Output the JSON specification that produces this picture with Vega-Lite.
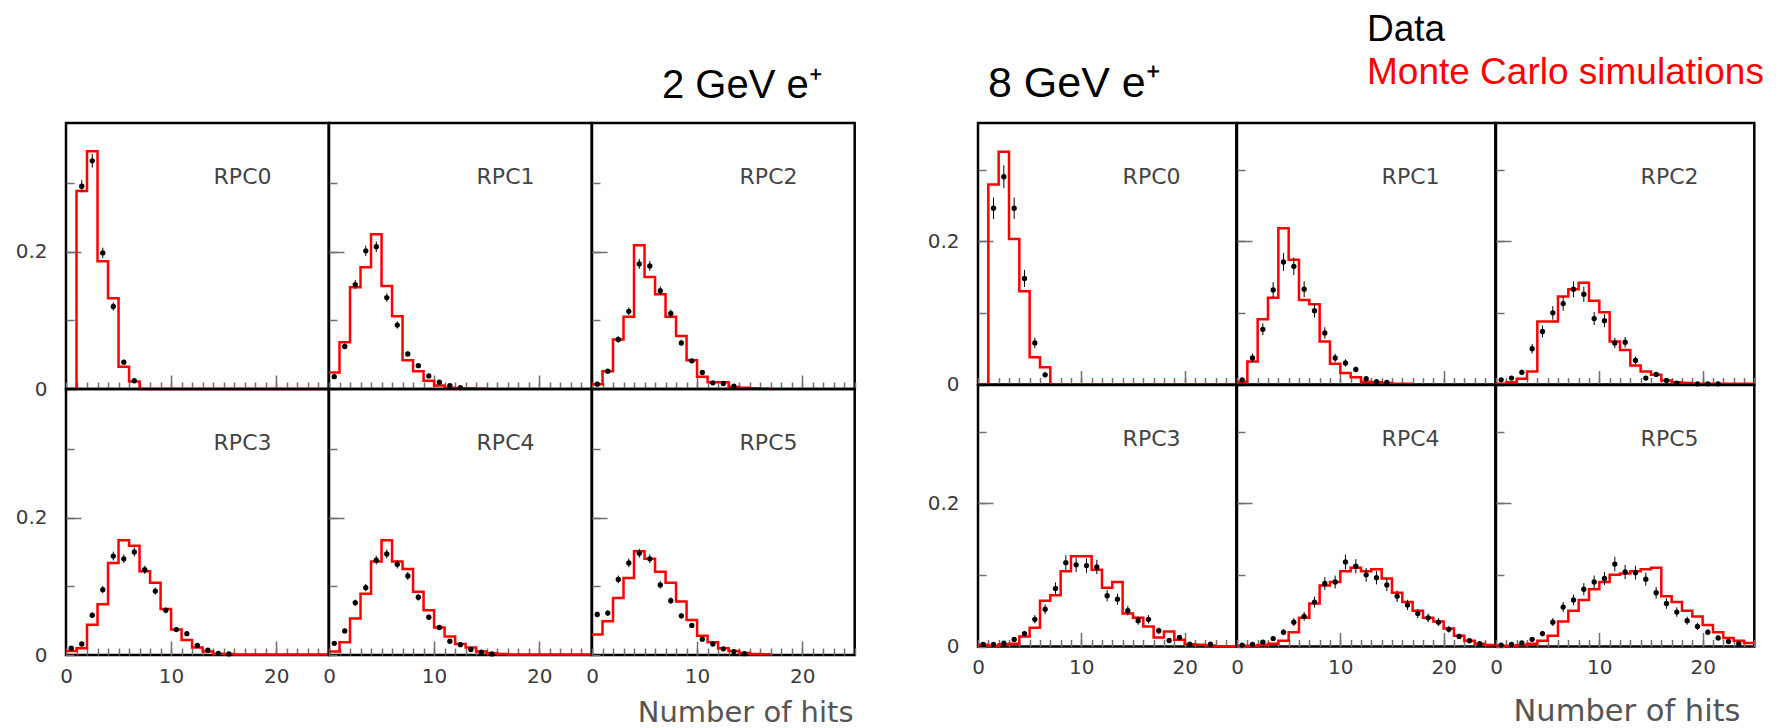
{
  "$schema": "https://vega.github.io/schema/vega-lite/v6.json",
  "background": "white",
  "padding": {"left": 13, "top": 9, "right": 5, "bottom": 2},
  "config": {
    "view": {"stroke": "#000000", "strokeWidth": 2.5},
    "axis": {
      "domain": false,
      "labelFont": "DejaVu Sans",
      "labelFontSize": 20,
      "labelColor": "#3a3a3a",
      "tickColor": "#707070",
      "tickWidth": 1.5,
      "labelOverlap": false,
      "labelFlush": false,
      "grid": true,
      "gridColor": "#707070",
      "gridWidth": 1.5
    },
    "axisX": {
      "tickCount": 25,
      "tickSize": -7,
      "labelPadding": 18,
      "labelExpr": "datum.value == 0 || datum.value == 10 || datum.value == 20 ? datum.label : ''"
    },
    "axisY": {
      "tickCount": 4,
      "tickSize": -8,
      "labelPadding": 27,
      "labelExpr": "datum.value == 0 ? '0' : (abs(datum.value - 0.2) < 0.001 ? '0.2' : '')",
      "gridDash": [15, 2000]
    },
    "text": {"font": "DejaVu Sans", "fontSize": 22, "color": "#444444"},
    "line": {"interpolate": "step-after", "color": "#ff0000", "strokeWidth": 2.5},
    "circle": {"color": "#000000", "opacity": 1, "size": 28},
    "errorbar": {"color": "#000000", "thickness": 2},
    "title": {"font": "Liberation Sans", "fontWeight": "normal", "color": "#000000"}
  },
  "datasets": {
    "h": [
      {"e":2,"p":0,"k":"mc","x":0,"y":0},{"e":2,"p":0,"k":"mc","x":1,"y":0.288},{"e":2,"p":0,"k":"mc","x":2,"y":0.346},{"e":2,"p":0,"k":"mc","x":3,"y":0.186},{"e":2,"p":0,"k":"mc","x":4,"y":0.132},{"e":2,"p":0,"k":"mc","x":5,"y":0.0325},{"e":2,"p":0,"k":"mc","x":6,"y":0.011},{"e":2,"p":0,"k":"mc","x":7,"y":0},{"e":2,"p":0,"k":"mc","x":25,"y":0},
      {"e":2,"p":0,"k":"d","x":1.5,"y":0.295,"err":0.009},{"e":2,"p":0,"k":"d","x":2.5,"y":0.332,"err":0.01},{"e":2,"p":0,"k":"d","x":3.5,"y":0.198,"err":0.0076},{"e":2,"p":0,"k":"d","x":4.5,"y":0.12,"err":0.006},{"e":2,"p":0,"k":"d","x":5.5,"y":0.039,"err":0.0034},{"e":2,"p":0,"k":"d","x":6.5,"y":0.012,"err":0.002},

      {"e":2,"p":1,"k":"mc","x":0,"y":0.024},{"e":2,"p":1,"k":"mc","x":1,"y":0.068},{"e":2,"p":1,"k":"mc","x":2,"y":0.148},{"e":2,"p":1,"k":"mc","x":3,"y":0.177},{"e":2,"p":1,"k":"mc","x":4,"y":0.225},{"e":2,"p":1,"k":"mc","x":5,"y":0.15},{"e":2,"p":1,"k":"mc","x":6,"y":0.106},{"e":2,"p":1,"k":"mc","x":7,"y":0.042},{"e":2,"p":1,"k":"mc","x":8,"y":0.026},{"e":2,"p":1,"k":"mc","x":9,"y":0.012},{"e":2,"p":1,"k":"mc","x":10,"y":0.005},{"e":2,"p":1,"k":"mc","x":11,"y":0.002},{"e":2,"p":1,"k":"mc","x":12,"y":0.001},{"e":2,"p":1,"k":"mc","x":13,"y":0.001},{"e":2,"p":1,"k":"mc","x":14,"y":0.0005},{"e":2,"p":1,"k":"mc","x":15,"y":0.0005},
      {"e":2,"p":1,"k":"d","x":0.5,"y":0.018,"err":0.0023},{"e":2,"p":1,"k":"d","x":1.5,"y":0.062,"err":0.0042},{"e":2,"p":1,"k":"d","x":2.5,"y":0.152,"err":0.0066},{"e":2,"p":1,"k":"d","x":3.5,"y":0.201,"err":0.0076},{"e":2,"p":1,"k":"d","x":4.5,"y":0.207,"err":0.0077},{"e":2,"p":1,"k":"d","x":5.5,"y":0.133,"err":0.0062},{"e":2,"p":1,"k":"d","x":6.5,"y":0.093,"err":0.0052},{"e":2,"p":1,"k":"d","x":7.5,"y":0.051,"err":0.0038},{"e":2,"p":1,"k":"d","x":8.5,"y":0.034,"err":0.0031},{"e":2,"p":1,"k":"d","x":9.5,"y":0.019,"err":0.0023},{"e":2,"p":1,"k":"d","x":10.5,"y":0.01,"err":0.0017},{"e":2,"p":1,"k":"d","x":11.5,"y":0.005,"err":0.0012},{"e":2,"p":1,"k":"d","x":12.5,"y":0.002,"err":0.0008},

      {"e":2,"p":2,"k":"mc","x":0,"y":0.007},{"e":2,"p":2,"k":"mc","x":1,"y":0.026},{"e":2,"p":2,"k":"mc","x":2,"y":0.072},{"e":2,"p":2,"k":"mc","x":3,"y":0.105},{"e":2,"p":2,"k":"mc","x":4,"y":0.209},{"e":2,"p":2,"k":"mc","x":5,"y":0.163},{"e":2,"p":2,"k":"mc","x":6,"y":0.138},{"e":2,"p":2,"k":"mc","x":7,"y":0.105},{"e":2,"p":2,"k":"mc","x":8,"y":0.077},{"e":2,"p":2,"k":"mc","x":9,"y":0.042},{"e":2,"p":2,"k":"mc","x":10,"y":0.018},{"e":2,"p":2,"k":"mc","x":11,"y":0.0097},{"e":2,"p":2,"k":"mc","x":12,"y":0.0097},{"e":2,"p":2,"k":"mc","x":13,"y":0.003},{"e":2,"p":2,"k":"mc","x":14,"y":0.002},{"e":2,"p":2,"k":"mc","x":15,"y":0.001},{"e":2,"p":2,"k":"mc","x":16,"y":0.0005},{"e":2,"p":2,"k":"mc","x":17,"y":0.0005},
      {"e":2,"p":2,"k":"d","x":0.5,"y":0.007,"err":0.0014},{"e":2,"p":2,"k":"d","x":1.5,"y":0.026,"err":0.0027},{"e":2,"p":2,"k":"d","x":2.5,"y":0.072,"err":0.0046},{"e":2,"p":2,"k":"d","x":3.5,"y":0.113,"err":0.0057},{"e":2,"p":2,"k":"d","x":4.5,"y":0.182,"err":0.0073},{"e":2,"p":2,"k":"d","x":5.5,"y":0.179,"err":0.0072},{"e":2,"p":2,"k":"d","x":6.5,"y":0.143,"err":0.0064},{"e":2,"p":2,"k":"d","x":7.5,"y":0.11,"err":0.0056},{"e":2,"p":2,"k":"d","x":8.5,"y":0.067,"err":0.0044},{"e":2,"p":2,"k":"d","x":9.5,"y":0.041,"err":0.0034},{"e":2,"p":2,"k":"d","x":10.5,"y":0.024,"err":0.0026},{"e":2,"p":2,"k":"d","x":11.5,"y":0.009,"err":0.0016},{"e":2,"p":2,"k":"d","x":12.5,"y":0.008,"err":0.0015},{"e":2,"p":2,"k":"d","x":13.5,"y":0.004,"err":0.001},

      {"e":2,"p":3,"k":"mc","x":0,"y":0.006},{"e":2,"p":3,"k":"mc","x":1,"y":0.01},{"e":2,"p":3,"k":"mc","x":2,"y":0.044},{"e":2,"p":3,"k":"mc","x":3,"y":0.074},{"e":2,"p":3,"k":"mc","x":4,"y":0.134},{"e":2,"p":3,"k":"mc","x":5,"y":0.167},{"e":2,"p":3,"k":"mc","x":6,"y":0.159},{"e":2,"p":3,"k":"mc","x":7,"y":0.122},{"e":2,"p":3,"k":"mc","x":8,"y":0.105},{"e":2,"p":3,"k":"mc","x":9,"y":0.067},{"e":2,"p":3,"k":"mc","x":10,"y":0.037},{"e":2,"p":3,"k":"mc","x":11,"y":0.022},{"e":2,"p":3,"k":"mc","x":12,"y":0.011},{"e":2,"p":3,"k":"mc","x":13,"y":0.005},{"e":2,"p":3,"k":"mc","x":14,"y":0.002},{"e":2,"p":3,"k":"mc","x":15,"y":0.0015},{"e":2,"p":3,"k":"mc","x":16,"y":0.0008},{"e":2,"p":3,"k":"mc","x":25,"y":0.0008},
      {"e":2,"p":3,"k":"d","x":0.5,"y":0.0098,"err":0.0017},{"e":2,"p":3,"k":"d","x":1.5,"y":0.016,"err":0.0021},{"e":2,"p":3,"k":"d","x":2.5,"y":0.058,"err":0.0041},{"e":2,"p":3,"k":"d","x":3.5,"y":0.095,"err":0.0052},{"e":2,"p":3,"k":"d","x":4.5,"y":0.144,"err":0.0064},{"e":2,"p":3,"k":"d","x":5.5,"y":0.14,"err":0.0063},{"e":2,"p":3,"k":"d","x":6.5,"y":0.15,"err":0.0066},{"e":2,"p":3,"k":"d","x":7.5,"y":0.124,"err":0.006},{"e":2,"p":3,"k":"d","x":8.5,"y":0.093,"err":0.0052},{"e":2,"p":3,"k":"d","x":9.5,"y":0.065,"err":0.0043},{"e":2,"p":3,"k":"d","x":10.5,"y":0.037,"err":0.0033},{"e":2,"p":3,"k":"d","x":11.5,"y":0.031,"err":0.003},{"e":2,"p":3,"k":"d","x":12.5,"y":0.014,"err":0.002},{"e":2,"p":3,"k":"d","x":13.5,"y":0.007,"err":0.0014},{"e":2,"p":3,"k":"d","x":14.5,"y":0.0025,"err":0.0008},{"e":2,"p":3,"k":"d","x":15.5,"y":0.0015,"err":0.0006},

      {"e":2,"p":4,"k":"mc","x":0,"y":0.005},{"e":2,"p":4,"k":"mc","x":1,"y":0.0185},{"e":2,"p":4,"k":"mc","x":2,"y":0.053},{"e":2,"p":4,"k":"mc","x":3,"y":0.089},{"e":2,"p":4,"k":"mc","x":4,"y":0.136},{"e":2,"p":4,"k":"mc","x":5,"y":0.167},{"e":2,"p":4,"k":"mc","x":6,"y":0.136},{"e":2,"p":4,"k":"mc","x":7,"y":0.125},{"e":2,"p":4,"k":"mc","x":8,"y":0.092},{"e":2,"p":4,"k":"mc","x":9,"y":0.065},{"e":2,"p":4,"k":"mc","x":10,"y":0.04},{"e":2,"p":4,"k":"mc","x":11,"y":0.027},{"e":2,"p":4,"k":"mc","x":12,"y":0.016},{"e":2,"p":4,"k":"mc","x":13,"y":0.011},{"e":2,"p":4,"k":"mc","x":14,"y":0.005},{"e":2,"p":4,"k":"mc","x":15,"y":0.0025},{"e":2,"p":4,"k":"mc","x":16,"y":0.0015},{"e":2,"p":4,"k":"mc","x":17,"y":0.0008},{"e":2,"p":4,"k":"mc","x":25,"y":0.0008},
      {"e":2,"p":4,"k":"d","x":0.5,"y":0.017,"err":0.0022},{"e":2,"p":4,"k":"d","x":1.5,"y":0.035,"err":0.0032},{"e":2,"p":4,"k":"d","x":2.5,"y":0.076,"err":0.0047},{"e":2,"p":4,"k":"d","x":3.5,"y":0.098,"err":0.0053},{"e":2,"p":4,"k":"d","x":4.5,"y":0.138,"err":0.0063},{"e":2,"p":4,"k":"d","x":5.5,"y":0.147,"err":0.0065},{"e":2,"p":4,"k":"d","x":6.5,"y":0.132,"err":0.0062},{"e":2,"p":4,"k":"d","x":7.5,"y":0.115,"err":0.0058},{"e":2,"p":4,"k":"d","x":8.5,"y":0.084,"err":0.0049},{"e":2,"p":4,"k":"d","x":9.5,"y":0.055,"err":0.004},{"e":2,"p":4,"k":"d","x":10.5,"y":0.04,"err":0.0034},{"e":2,"p":4,"k":"d","x":11.5,"y":0.02,"err":0.0024},{"e":2,"p":4,"k":"d","x":12.5,"y":0.015,"err":0.0021},{"e":2,"p":4,"k":"d","x":13.5,"y":0.008,"err":0.0015},{"e":2,"p":4,"k":"d","x":14.5,"y":0.004,"err":0.0011},{"e":2,"p":4,"k":"d","x":15.5,"y":0.0015,"err":0.0007},

      {"e":2,"p":5,"k":"mc","x":0,"y":0.03},{"e":2,"p":5,"k":"mc","x":1,"y":0.049},{"e":2,"p":5,"k":"mc","x":2,"y":0.083},{"e":2,"p":5,"k":"mc","x":3,"y":0.112},{"e":2,"p":5,"k":"mc","x":4,"y":0.151},{"e":2,"p":5,"k":"mc","x":5,"y":0.14},{"e":2,"p":5,"k":"mc","x":6,"y":0.121},{"e":2,"p":5,"k":"mc","x":7,"y":0.105},{"e":2,"p":5,"k":"mc","x":8,"y":0.078},{"e":2,"p":5,"k":"mc","x":9,"y":0.051},{"e":2,"p":5,"k":"mc","x":10,"y":0.028},{"e":2,"p":5,"k":"mc","x":11,"y":0.0185},{"e":2,"p":5,"k":"mc","x":12,"y":0.01},{"e":2,"p":5,"k":"mc","x":13,"y":0.006},{"e":2,"p":5,"k":"mc","x":14,"y":0.003},{"e":2,"p":5,"k":"mc","x":15,"y":0.0015},{"e":2,"p":5,"k":"mc","x":16,"y":0.001},{"e":2,"p":5,"k":"mc","x":17,"y":0.001},
      {"e":2,"p":5,"k":"d","x":0.5,"y":0.059,"err":0.0041},{"e":2,"p":5,"k":"d","x":1.5,"y":0.061,"err":0.0042},{"e":2,"p":5,"k":"d","x":2.5,"y":0.11,"err":0.0056},{"e":2,"p":5,"k":"d","x":3.5,"y":0.134,"err":0.0062},{"e":2,"p":5,"k":"d","x":4.5,"y":0.148,"err":0.0065},{"e":2,"p":5,"k":"d","x":5.5,"y":0.14,"err":0.0063},{"e":2,"p":5,"k":"d","x":6.5,"y":0.102,"err":0.0054},{"e":2,"p":5,"k":"d","x":7.5,"y":0.079,"err":0.0048},{"e":2,"p":5,"k":"d","x":8.5,"y":0.057,"err":0.0041},{"e":2,"p":5,"k":"d","x":9.5,"y":0.043,"err":0.0035},{"e":2,"p":5,"k":"d","x":10.5,"y":0.023,"err":0.0026},{"e":2,"p":5,"k":"d","x":11.5,"y":0.016,"err":0.0022},{"e":2,"p":5,"k":"d","x":12.5,"y":0.009,"err":0.0016},{"e":2,"p":5,"k":"d","x":13.5,"y":0.005,"err":0.0012},{"e":2,"p":5,"k":"d","x":14.5,"y":0.002,"err":0.0008},

      {"e":8,"p":0,"k":"mc","x":0,"y":0},{"e":8,"p":0,"k":"mc","x":1,"y":0.279},{"e":8,"p":0,"k":"mc","x":2,"y":0.325},{"e":8,"p":0,"k":"mc","x":3,"y":0.203},{"e":8,"p":0,"k":"mc","x":4,"y":0.13},{"e":8,"p":0,"k":"mc","x":5,"y":0.038},{"e":8,"p":0,"k":"mc","x":6,"y":0.024},{"e":8,"p":0,"k":"mc","x":7,"y":0},{"e":8,"p":0,"k":"mc","x":25,"y":0},
      {"e":8,"p":0,"k":"d","x":1.5,"y":0.246,"err":0.015},{"e":8,"p":0,"k":"d","x":2.5,"y":0.29,"err":0.016},{"e":8,"p":0,"k":"d","x":3.5,"y":0.246,"err":0.015},{"e":8,"p":0,"k":"d","x":4.5,"y":0.148,"err":0.012},{"e":8,"p":0,"k":"d","x":5.5,"y":0.058,"err":0.0072},{"e":8,"p":0,"k":"d","x":6.5,"y":0.0135,"err":0.0035},

      {"e":8,"p":1,"k":"mc","x":0,"y":0.004},{"e":8,"p":1,"k":"mc","x":1,"y":0.032},{"e":8,"p":1,"k":"mc","x":2,"y":0.091},{"e":8,"p":1,"k":"mc","x":3,"y":0.121},{"e":8,"p":1,"k":"mc","x":4,"y":0.218},{"e":8,"p":1,"k":"mc","x":5,"y":0.174},{"e":8,"p":1,"k":"mc","x":6,"y":0.118},{"e":8,"p":1,"k":"mc","x":7,"y":0.112},{"e":8,"p":1,"k":"mc","x":8,"y":0.06},{"e":8,"p":1,"k":"mc","x":9,"y":0.029},{"e":8,"p":1,"k":"mc","x":10,"y":0.016},{"e":8,"p":1,"k":"mc","x":11,"y":0.01},{"e":8,"p":1,"k":"mc","x":12,"y":0.004},{"e":8,"p":1,"k":"mc","x":13,"y":0.003},{"e":8,"p":1,"k":"mc","x":14,"y":0.002},{"e":8,"p":1,"k":"mc","x":15,"y":0.001},{"e":8,"p":1,"k":"mc","x":16,"y":0.001},{"e":8,"p":1,"k":"mc","x":17,"y":0.001},
      {"e":8,"p":1,"k":"d","x":0.5,"y":0.0065,"err":0.0024},{"e":8,"p":1,"k":"d","x":1.5,"y":0.037,"err":0.0058},{"e":8,"p":1,"k":"d","x":2.5,"y":0.077,"err":0.0083},{"e":8,"p":1,"k":"d","x":3.5,"y":0.132,"err":0.011},{"e":8,"p":1,"k":"d","x":4.5,"y":0.171,"err":0.0124},{"e":8,"p":1,"k":"d","x":5.5,"y":0.165,"err":0.0122},{"e":8,"p":1,"k":"d","x":6.5,"y":0.133,"err":0.011},{"e":8,"p":1,"k":"d","x":7.5,"y":0.103,"err":0.0096},{"e":8,"p":1,"k":"d","x":8.5,"y":0.072,"err":0.008},{"e":8,"p":1,"k":"d","x":9.5,"y":0.037,"err":0.0058},{"e":8,"p":1,"k":"d","x":10.5,"y":0.03,"err":0.0052},{"e":8,"p":1,"k":"d","x":11.5,"y":0.021,"err":0.0043},{"e":8,"p":1,"k":"d","x":12.5,"y":0.008,"err":0.0027},{"e":8,"p":1,"k":"d","x":13.5,"y":0.004,"err":0.0019},{"e":8,"p":1,"k":"d","x":14.5,"y":0.003,"err":0.0016},

      {"e":8,"p":2,"k":"mc","x":0,"y":0.001},{"e":8,"p":2,"k":"mc","x":1,"y":0.003},{"e":8,"p":2,"k":"mc","x":2,"y":0.008},{"e":8,"p":2,"k":"mc","x":3,"y":0.018},{"e":8,"p":2,"k":"mc","x":4,"y":0.088},{"e":8,"p":2,"k":"mc","x":5,"y":0.088},{"e":8,"p":2,"k":"mc","x":6,"y":0.123},{"e":8,"p":2,"k":"mc","x":7,"y":0.133},{"e":8,"p":2,"k":"mc","x":8,"y":0.142},{"e":8,"p":2,"k":"mc","x":9,"y":0.117},{"e":8,"p":2,"k":"mc","x":10,"y":0.101},{"e":8,"p":2,"k":"mc","x":11,"y":0.06},{"e":8,"p":2,"k":"mc","x":12,"y":0.048},{"e":8,"p":2,"k":"mc","x":13,"y":0.0265},{"e":8,"p":2,"k":"mc","x":14,"y":0.018},{"e":8,"p":2,"k":"mc","x":15,"y":0.0135},{"e":8,"p":2,"k":"mc","x":16,"y":0.0056},{"e":8,"p":2,"k":"mc","x":17,"y":0.003},{"e":8,"p":2,"k":"mc","x":18,"y":0.002},{"e":8,"p":2,"k":"mc","x":19,"y":0.001},{"e":8,"p":2,"k":"mc","x":25,"y":0.001},
      {"e":8,"p":2,"k":"d","x":0.5,"y":0.0065,"err":0.0024},{"e":8,"p":2,"k":"d","x":1.5,"y":0.009,"err":0.0028},{"e":8,"p":2,"k":"d","x":2.5,"y":0.017,"err":0.0039},{"e":8,"p":2,"k":"d","x":3.5,"y":0.05,"err":0.0067},{"e":8,"p":2,"k":"d","x":4.5,"y":0.074,"err":0.0082},{"e":8,"p":2,"k":"d","x":5.5,"y":0.1,"err":0.0095},{"e":8,"p":2,"k":"d","x":6.5,"y":0.113,"err":0.01},{"e":8,"p":2,"k":"d","x":7.5,"y":0.133,"err":0.011},{"e":8,"p":2,"k":"d","x":8.5,"y":0.126,"err":0.0106},{"e":8,"p":2,"k":"d","x":9.5,"y":0.092,"err":0.009},{"e":8,"p":2,"k":"d","x":10.5,"y":0.089,"err":0.009},{"e":8,"p":2,"k":"d","x":11.5,"y":0.058,"err":0.0072},{"e":8,"p":2,"k":"d","x":12.5,"y":0.059,"err":0.0073},{"e":8,"p":2,"k":"d","x":13.5,"y":0.0335,"err":0.0055},{"e":8,"p":2,"k":"d","x":14.5,"y":0.009,"err":0.0028},{"e":8,"p":2,"k":"d","x":15.5,"y":0.014,"err":0.0035},{"e":8,"p":2,"k":"d","x":16.5,"y":0.0056,"err":0.0022},{"e":8,"p":2,"k":"d","x":17.5,"y":0.002,"err":0.0013},{"e":8,"p":2,"k":"d","x":19.5,"y":0.001,"err":0.001},{"e":8,"p":2,"k":"d","x":20.5,"y":0.001,"err":0.001},{"e":8,"p":2,"k":"d","x":21.5,"y":0.001,"err":0.001},

      {"e":8,"p":3,"k":"mc","x":0,"y":0.0023},{"e":8,"p":3,"k":"mc","x":1,"y":0.001},{"e":8,"p":3,"k":"mc","x":2,"y":0.003},{"e":8,"p":3,"k":"mc","x":3,"y":0.004},{"e":8,"p":3,"k":"mc","x":4,"y":0.014},{"e":8,"p":3,"k":"mc","x":5,"y":0.026},{"e":8,"p":3,"k":"mc","x":6,"y":0.064},{"e":8,"p":3,"k":"mc","x":7,"y":0.0715},{"e":8,"p":3,"k":"mc","x":8,"y":0.105},{"e":8,"p":3,"k":"mc","x":9,"y":0.126},{"e":8,"p":3,"k":"mc","x":10,"y":0.126},{"e":8,"p":3,"k":"mc","x":11,"y":0.107},{"e":8,"p":3,"k":"mc","x":12,"y":0.082},{"e":8,"p":3,"k":"mc","x":13,"y":0.09},{"e":8,"p":3,"k":"mc","x":14,"y":0.046},{"e":8,"p":3,"k":"mc","x":15,"y":0.04},{"e":8,"p":3,"k":"mc","x":16,"y":0.028},{"e":8,"p":3,"k":"mc","x":17,"y":0.0126},{"e":8,"p":3,"k":"mc","x":18,"y":0.021},{"e":8,"p":3,"k":"mc","x":19,"y":0.0093},{"e":8,"p":3,"k":"mc","x":20,"y":0.0033},{"e":8,"p":3,"k":"mc","x":21,"y":0.0023},{"e":8,"p":3,"k":"mc","x":22,"y":0.0014},{"e":8,"p":3,"k":"mc","x":23,"y":0.0005},{"e":8,"p":3,"k":"mc","x":25,"y":0.0005},
      {"e":8,"p":3,"k":"d","x":0.5,"y":0.003,"err":0.0016},{"e":8,"p":3,"k":"d","x":1.5,"y":0.003,"err":0.0016},{"e":8,"p":3,"k":"d","x":2.5,"y":0.0047,"err":0.002},{"e":8,"p":3,"k":"d","x":3.5,"y":0.0098,"err":0.003},{"e":8,"p":3,"k":"d","x":4.5,"y":0.018,"err":0.004},{"e":8,"p":3,"k":"d","x":5.5,"y":0.038,"err":0.0058},{"e":8,"p":3,"k":"d","x":6.5,"y":0.052,"err":0.0068},{"e":8,"p":3,"k":"d","x":7.5,"y":0.081,"err":0.0085},{"e":8,"p":3,"k":"d","x":8.5,"y":0.117,"err":0.0103},{"e":8,"p":3,"k":"d","x":9.5,"y":0.114,"err":0.0101},{"e":8,"p":3,"k":"d","x":10.5,"y":0.113,"err":0.0101},{"e":8,"p":3,"k":"d","x":11.5,"y":0.111,"err":0.01},{"e":8,"p":3,"k":"d","x":12.5,"y":0.071,"err":0.008},{"e":8,"p":3,"k":"d","x":13.5,"y":0.066,"err":0.0077},{"e":8,"p":3,"k":"d","x":14.5,"y":0.05,"err":0.0067},{"e":8,"p":3,"k":"d","x":15.5,"y":0.036,"err":0.0057},{"e":8,"p":3,"k":"d","x":16.5,"y":0.038,"err":0.0058},{"e":8,"p":3,"k":"d","x":17.5,"y":0.022,"err":0.0044},{"e":8,"p":3,"k":"d","x":18.5,"y":0.0084,"err":0.0027},{"e":8,"p":3,"k":"d","x":19.5,"y":0.0126,"err":0.0034},{"e":8,"p":3,"k":"d","x":20.5,"y":0.0033,"err":0.0017},{"e":8,"p":3,"k":"d","x":22.5,"y":0.0033,"err":0.0017},

      {"e":8,"p":4,"k":"mc","x":0,"y":0.001},{"e":8,"p":4,"k":"mc","x":1,"y":0.001},{"e":8,"p":4,"k":"mc","x":2,"y":0.002},{"e":8,"p":4,"k":"mc","x":3,"y":0.004},{"e":8,"p":4,"k":"mc","x":4,"y":0.008},{"e":8,"p":4,"k":"mc","x":5,"y":0.02},{"e":8,"p":4,"k":"mc","x":6,"y":0.04},{"e":8,"p":4,"k":"mc","x":7,"y":0.06},{"e":8,"p":4,"k":"mc","x":8,"y":0.085},{"e":8,"p":4,"k":"mc","x":9,"y":0.09},{"e":8,"p":4,"k":"mc","x":10,"y":0.105},{"e":8,"p":4,"k":"mc","x":11,"y":0.11},{"e":8,"p":4,"k":"mc","x":12,"y":0.105},{"e":8,"p":4,"k":"mc","x":13,"y":0.108},{"e":8,"p":4,"k":"mc","x":14,"y":0.095},{"e":8,"p":4,"k":"mc","x":15,"y":0.075},{"e":8,"p":4,"k":"mc","x":16,"y":0.062},{"e":8,"p":4,"k":"mc","x":17,"y":0.05},{"e":8,"p":4,"k":"mc","x":18,"y":0.04},{"e":8,"p":4,"k":"mc","x":19,"y":0.035},{"e":8,"p":4,"k":"mc","x":20,"y":0.025},{"e":8,"p":4,"k":"mc","x":21,"y":0.015},{"e":8,"p":4,"k":"mc","x":22,"y":0.008},{"e":8,"p":4,"k":"mc","x":23,"y":0.004},{"e":8,"p":4,"k":"mc","x":24,"y":0.002},{"e":8,"p":4,"k":"mc","x":25,"y":0.002},
      {"e":8,"p":4,"k":"d","x":0.5,"y":0.002,"err":0.0013},{"e":8,"p":4,"k":"d","x":1.5,"y":0.003,"err":0.0016},{"e":8,"p":4,"k":"d","x":2.5,"y":0.006,"err":0.0023},{"e":8,"p":4,"k":"d","x":3.5,"y":0.011,"err":0.0031},{"e":8,"p":4,"k":"d","x":4.5,"y":0.02,"err":0.0042},{"e":8,"p":4,"k":"d","x":5.5,"y":0.034,"err":0.0055},{"e":8,"p":4,"k":"d","x":6.5,"y":0.042,"err":0.0061},{"e":8,"p":4,"k":"d","x":7.5,"y":0.062,"err":0.0075},{"e":8,"p":4,"k":"d","x":8.5,"y":0.088,"err":0.0089},{"e":8,"p":4,"k":"d","x":9.5,"y":0.09,"err":0.009},{"e":8,"p":4,"k":"d","x":10.5,"y":0.118,"err":0.0103},{"e":8,"p":4,"k":"d","x":11.5,"y":0.112,"err":0.01},{"e":8,"p":4,"k":"d","x":12.5,"y":0.1,"err":0.0095},{"e":8,"p":4,"k":"d","x":13.5,"y":0.096,"err":0.0093},{"e":8,"p":4,"k":"d","x":14.5,"y":0.086,"err":0.0088},{"e":8,"p":4,"k":"d","x":15.5,"y":0.07,"err":0.0079},{"e":8,"p":4,"k":"d","x":16.5,"y":0.058,"err":0.0072},{"e":8,"p":4,"k":"d","x":17.5,"y":0.046,"err":0.0064},{"e":8,"p":4,"k":"d","x":18.5,"y":0.04,"err":0.006},{"e":8,"p":4,"k":"d","x":19.5,"y":0.034,"err":0.0055},{"e":8,"p":4,"k":"d","x":20.5,"y":0.024,"err":0.0046},{"e":8,"p":4,"k":"d","x":21.5,"y":0.014,"err":0.0035},{"e":8,"p":4,"k":"d","x":22.5,"y":0.008,"err":0.0027},{"e":8,"p":4,"k":"d","x":23.5,"y":0.004,"err":0.0019},

      {"e":8,"p":5,"k":"mc","x":0,"y":0.001},{"e":8,"p":5,"k":"mc","x":1,"y":0.001},{"e":8,"p":5,"k":"mc","x":2,"y":0.002},{"e":8,"p":5,"k":"mc","x":3,"y":0.004},{"e":8,"p":5,"k":"mc","x":4,"y":0.008},{"e":8,"p":5,"k":"mc","x":5,"y":0.015},{"e":8,"p":5,"k":"mc","x":6,"y":0.035},{"e":8,"p":5,"k":"mc","x":7,"y":0.05},{"e":8,"p":5,"k":"mc","x":8,"y":0.065},{"e":8,"p":5,"k":"mc","x":9,"y":0.08},{"e":8,"p":5,"k":"mc","x":10,"y":0.09},{"e":8,"p":5,"k":"mc","x":11,"y":0.1},{"e":8,"p":5,"k":"mc","x":12,"y":0.102},{"e":8,"p":5,"k":"mc","x":13,"y":0.105},{"e":8,"p":5,"k":"mc","x":14,"y":0.108},{"e":8,"p":5,"k":"mc","x":15,"y":0.11},{"e":8,"p":5,"k":"mc","x":16,"y":0.07},{"e":8,"p":5,"k":"mc","x":17,"y":0.062},{"e":8,"p":5,"k":"mc","x":18,"y":0.05},{"e":8,"p":5,"k":"mc","x":19,"y":0.042},{"e":8,"p":5,"k":"mc","x":20,"y":0.03},{"e":8,"p":5,"k":"mc","x":21,"y":0.02},{"e":8,"p":5,"k":"mc","x":22,"y":0.012},{"e":8,"p":5,"k":"mc","x":23,"y":0.008},{"e":8,"p":5,"k":"mc","x":24,"y":0.005},{"e":8,"p":5,"k":"mc","x":25,"y":0.005},
      {"e":8,"p":5,"k":"d","x":0.5,"y":0.002,"err":0.0013},{"e":8,"p":5,"k":"d","x":1.5,"y":0.003,"err":0.0016},{"e":8,"p":5,"k":"d","x":2.5,"y":0.005,"err":0.0021},{"e":8,"p":5,"k":"d","x":3.5,"y":0.01,"err":0.003},{"e":8,"p":5,"k":"d","x":4.5,"y":0.018,"err":0.004},{"e":8,"p":5,"k":"d","x":5.5,"y":0.034,"err":0.0055},{"e":8,"p":5,"k":"d","x":6.5,"y":0.055,"err":0.007},{"e":8,"p":5,"k":"d","x":7.5,"y":0.065,"err":0.0076},{"e":8,"p":5,"k":"d","x":8.5,"y":0.08,"err":0.0085},{"e":8,"p":5,"k":"d","x":9.5,"y":0.09,"err":0.009},{"e":8,"p":5,"k":"d","x":10.5,"y":0.095,"err":0.0092},{"e":8,"p":5,"k":"d","x":11.5,"y":0.115,"err":0.0102},{"e":8,"p":5,"k":"d","x":12.5,"y":0.104,"err":0.0097},{"e":8,"p":5,"k":"d","x":13.5,"y":0.103,"err":0.0096},{"e":8,"p":5,"k":"d","x":14.5,"y":0.094,"err":0.0092},{"e":8,"p":5,"k":"d","x":15.5,"y":0.075,"err":0.0082},{"e":8,"p":5,"k":"d","x":16.5,"y":0.06,"err":0.0073},{"e":8,"p":5,"k":"d","x":17.5,"y":0.048,"err":0.0066},{"e":8,"p":5,"k":"d","x":18.5,"y":0.036,"err":0.0057},{"e":8,"p":5,"k":"d","x":19.5,"y":0.028,"err":0.005},{"e":8,"p":5,"k":"d","x":20.5,"y":0.02,"err":0.0042},{"e":8,"p":5,"k":"d","x":21.5,"y":0.012,"err":0.0033},{"e":8,"p":5,"k":"d","x":22.5,"y":0.007,"err":0.0025},{"e":8,"p":5,"k":"d","x":23.5,"y":0.004,"err":0.0019}
    ]
  },
  "spacing": 68,
  "hconcat": [
    {
      "columns": 3,
      "spacing": 0,
      "bounds": "flush",
      "concat": [
        {
          "width": 262.7, "height": 266,
          "layer": [
            {"data": {"name": "h"}, "transform": [{"filter": "datum.e == 2 && datum.p == 0 && datum.k == 'mc'"}], "mark": "line",
             "encoding": {
               "x": {"field": "x", "type": "quantitative", "scale": {"domain": [0, 25], "nice": false, "zero": false}, "axis": {"title": null, "labels": false, "gridDash": [0, 252, 14, 2000], "gridOpacity": {"condition": {"test": "datum.value == 10 || datum.value == 20", "value": 1}, "value": 0}}},
               "y": {"field": "y", "type": "quantitative", "scale": {"domain": [0, 0.387], "nice": false}, "axis": {"title": null, "labels": true, "gridOpacity": {"condition": {"test": "abs(datum.value - 0.2) < 0.001", "value": 1}, "value": 0}}}}},
            {"data": {"name": "h"}, "transform": [{"filter": "datum.e == 2 && datum.p == 0 && datum.k == 'd'"}], "mark": "errorbar", "encoding": {"x": {"field": "x", "type": "quantitative"}, "y": {"field": "y", "type": "quantitative"}, "yError": {"field": "err"}}},
            {"data": {"name": "h"}, "transform": [{"filter": "datum.e == 2 && datum.p == 0 && datum.k == 'd'"}], "mark": "circle", "encoding": {"x": {"field": "x", "type": "quantitative"}, "y": {"field": "y", "type": "quantitative"}}},
            {"data": {"values": [{"t": "RPC0"}]}, "mark": "text", "encoding": {"x": {"datum": 16.8}, "y": {"datum": 0.309}, "text": {"field": "t"}}}
          ]
        },
        {
          "width": 262.7, "height": 266,
          "layer": [
            {"data": {"name": "h"}, "transform": [{"filter": "datum.e == 2 && datum.p == 1 && datum.k == 'mc'"}], "mark": "line",
             "encoding": {
               "x": {"field": "x", "type": "quantitative", "scale": {"domain": [0, 25], "nice": false, "zero": false}, "axis": {"title": null, "labels": false, "gridDash": [0, 252, 14, 2000], "gridOpacity": {"condition": {"test": "datum.value == 10 || datum.value == 20", "value": 1}, "value": 0}}},
               "y": {"field": "y", "type": "quantitative", "scale": {"domain": [0, 0.387], "nice": false}, "axis": {"title": null, "labels": false, "gridOpacity": {"condition": {"test": "abs(datum.value - 0.2) < 0.001", "value": 1}, "value": 0}}}}},
            {"data": {"name": "h"}, "transform": [{"filter": "datum.e == 2 && datum.p == 1 && datum.k == 'd'"}], "mark": "errorbar", "encoding": {"x": {"field": "x", "type": "quantitative"}, "y": {"field": "y", "type": "quantitative"}, "yError": {"field": "err"}}},
            {"data": {"name": "h"}, "transform": [{"filter": "datum.e == 2 && datum.p == 1 && datum.k == 'd'"}], "mark": "circle", "encoding": {"x": {"field": "x", "type": "quantitative"}, "y": {"field": "y", "type": "quantitative"}}},
            {"data": {"values": [{"t": "RPC1"}]}, "mark": "text", "encoding": {"x": {"datum": 16.8}, "y": {"datum": 0.309}, "text": {"field": "t"}}}
          ]
        },
        {
          "width": 262.7, "height": 266,
          "title": {"text": "2 GeV e⁺", "anchor": "end", "frame": "group", "dx": -32, "offset": 17, "fontSize": 40},
          "layer": [
            {"data": {"name": "h"}, "transform": [{"filter": "datum.e == 2 && datum.p == 2 && datum.k == 'mc'"}], "mark": "line",
             "encoding": {
               "x": {"field": "x", "type": "quantitative", "scale": {"domain": [0, 25], "nice": false, "zero": false}, "axis": {"title": null, "labels": false, "gridDash": [0, 252, 14, 2000], "gridOpacity": {"condition": {"test": "datum.value == 10 || datum.value == 20", "value": 1}, "value": 0}}},
               "y": {"field": "y", "type": "quantitative", "scale": {"domain": [0, 0.387], "nice": false}, "axis": {"title": null, "labels": false, "gridOpacity": {"condition": {"test": "abs(datum.value - 0.2) < 0.001", "value": 1}, "value": 0}}}}},
            {"data": {"name": "h"}, "transform": [{"filter": "datum.e == 2 && datum.p == 2 && datum.k == 'd'"}], "mark": "errorbar", "encoding": {"x": {"field": "x", "type": "quantitative"}, "y": {"field": "y", "type": "quantitative"}, "yError": {"field": "err"}}},
            {"data": {"name": "h"}, "transform": [{"filter": "datum.e == 2 && datum.p == 2 && datum.k == 'd'"}], "mark": "circle", "encoding": {"x": {"field": "x", "type": "quantitative"}, "y": {"field": "y", "type": "quantitative"}}},
            {"data": {"values": [{"t": "RPC2"}]}, "mark": "text", "encoding": {"x": {"datum": 16.8}, "y": {"datum": 0.309}, "text": {"field": "t"}}}
          ]
        },
        {
          "width": 262.7, "height": 266,
          "layer": [
            {"data": {"name": "h"}, "transform": [{"filter": "datum.e == 2 && datum.p == 3 && datum.k == 'mc'"}], "mark": "line",
             "encoding": {
               "x": {"field": "x", "type": "quantitative", "scale": {"domain": [0, 25], "nice": false, "zero": false}, "axis": {"title": null, "labels": true, "gridDash": [0, 252, 14, 2000], "gridOpacity": {"condition": {"test": "datum.value == 10 || datum.value == 20", "value": 1}, "value": 0}}},
               "y": {"field": "y", "type": "quantitative", "scale": {"domain": [0, 0.387], "nice": false}, "axis": {"title": null, "labels": true, "gridOpacity": {"condition": {"test": "abs(datum.value - 0.2) < 0.001", "value": 1}, "value": 0}}}}},
            {"data": {"name": "h"}, "transform": [{"filter": "datum.e == 2 && datum.p == 3 && datum.k == 'd'"}], "mark": "errorbar", "encoding": {"x": {"field": "x", "type": "quantitative"}, "y": {"field": "y", "type": "quantitative"}, "yError": {"field": "err"}}},
            {"data": {"name": "h"}, "transform": [{"filter": "datum.e == 2 && datum.p == 3 && datum.k == 'd'"}], "mark": "circle", "encoding": {"x": {"field": "x", "type": "quantitative"}, "y": {"field": "y", "type": "quantitative"}}},
            {"data": {"values": [{"t": "RPC3"}]}, "mark": "text", "encoding": {"x": {"datum": 16.8}, "y": {"datum": 0.309}, "text": {"field": "t"}}}
          ]
        },
        {
          "width": 262.7, "height": 266,
          "layer": [
            {"data": {"name": "h"}, "transform": [{"filter": "datum.e == 2 && datum.p == 4 && datum.k == 'mc'"}], "mark": "line",
             "encoding": {
               "x": {"field": "x", "type": "quantitative", "scale": {"domain": [0, 25], "nice": false, "zero": false}, "axis": {"title": null, "labels": true, "gridDash": [0, 252, 14, 2000], "gridOpacity": {"condition": {"test": "datum.value == 10 || datum.value == 20", "value": 1}, "value": 0}}},
               "y": {"field": "y", "type": "quantitative", "scale": {"domain": [0, 0.387], "nice": false}, "axis": {"title": null, "labels": false, "gridOpacity": {"condition": {"test": "abs(datum.value - 0.2) < 0.001", "value": 1}, "value": 0}}}}},
            {"data": {"name": "h"}, "transform": [{"filter": "datum.e == 2 && datum.p == 4 && datum.k == 'd'"}], "mark": "errorbar", "encoding": {"x": {"field": "x", "type": "quantitative"}, "y": {"field": "y", "type": "quantitative"}, "yError": {"field": "err"}}},
            {"data": {"name": "h"}, "transform": [{"filter": "datum.e == 2 && datum.p == 4 && datum.k == 'd'"}], "mark": "circle", "encoding": {"x": {"field": "x", "type": "quantitative"}, "y": {"field": "y", "type": "quantitative"}}},
            {"data": {"values": [{"t": "RPC4"}]}, "mark": "text", "encoding": {"x": {"datum": 16.8}, "y": {"datum": 0.309}, "text": {"field": "t"}}}
          ]
        },
        {
          "width": 262.7, "height": 266,
          "layer": [
            {"data": {"name": "h"}, "transform": [{"filter": "datum.e == 2 && datum.p == 5 && datum.k == 'mc'"}], "mark": "line",
             "encoding": {
               "x": {"field": "x", "type": "quantitative", "scale": {"domain": [0, 25], "nice": false, "zero": false}, "axis": {"title": "Number of hits", "titleFont": "DejaVu Sans", "titleFontSize": 29, "titleFontWeight": "normal", "titleColor": "#555555", "titleAlign": "right", "titleBaseline": "alphabetic", "titleX": 261, "titleY": 66, "labels": true, "gridDash": [0, 252, 14, 2000], "gridOpacity": {"condition": {"test": "datum.value == 10 || datum.value == 20", "value": 1}, "value": 0}}},
               "y": {"field": "y", "type": "quantitative", "scale": {"domain": [0, 0.387], "nice": false}, "axis": {"title": null, "labels": false, "gridOpacity": {"condition": {"test": "abs(datum.value - 0.2) < 0.001", "value": 1}, "value": 0}}}}},
            {"data": {"name": "h"}, "transform": [{"filter": "datum.e == 2 && datum.p == 5 && datum.k == 'd'"}], "mark": "errorbar", "encoding": {"x": {"field": "x", "type": "quantitative"}, "y": {"field": "y", "type": "quantitative"}, "yError": {"field": "err"}}},
            {"data": {"name": "h"}, "transform": [{"filter": "datum.e == 2 && datum.p == 5 && datum.k == 'd'"}], "mark": "circle", "encoding": {"x": {"field": "x", "type": "quantitative"}, "y": {"field": "y", "type": "quantitative"}}},
            {"data": {"values": [{"t": "RPC5"}]}, "mark": "text", "encoding": {"x": {"datum": 16.8}, "y": {"datum": 0.309}, "text": {"field": "t"}}}
          ]
        }
      ]
    },
    {
      "columns": 3,
      "spacing": 0,
      "bounds": "flush",
      "concat": [
        {
          "width": 258.3, "height": 261.5,
          "title": {"text": "8 GeV e⁺", "anchor": "start", "frame": "group", "dx": 10, "offset": 17, "fontSize": 43},
          "layer": [
            {"data": {"name": "h"}, "transform": [{"filter": "datum.e == 8 && datum.p == 0 && datum.k == 'mc'"}], "mark": "line",
             "encoding": {
               "x": {"field": "x", "type": "quantitative", "scale": {"domain": [0, 25], "nice": false, "zero": false}, "axis": {"title": null, "labels": false, "gridDash": [0, 247.5, 14, 2000], "gridOpacity": {"condition": {"test": "datum.value == 10 || datum.value == 20", "value": 1}, "value": 0}}},
               "y": {"field": "y", "type": "quantitative", "scale": {"domain": [0, 0.365], "nice": false}, "axis": {"title": null, "labels": true, "gridOpacity": {"condition": {"test": "abs(datum.value - 0.2) < 0.001", "value": 1}, "value": 0}}}}},
            {"data": {"name": "h"}, "transform": [{"filter": "datum.e == 8 && datum.p == 0 && datum.k == 'd'"}], "mark": "errorbar", "encoding": {"x": {"field": "x", "type": "quantitative"}, "y": {"field": "y", "type": "quantitative"}, "yError": {"field": "err"}}},
            {"data": {"name": "h"}, "transform": [{"filter": "datum.e == 8 && datum.p == 0 && datum.k == 'd'"}], "mark": "circle", "encoding": {"x": {"field": "x", "type": "quantitative"}, "y": {"field": "y", "type": "quantitative"}}},
            {"data": {"values": [{"t": "RPC0"}]}, "mark": "text", "encoding": {"x": {"datum": 16.8}, "y": {"datum": 0.29}, "text": {"field": "t"}}}
          ]
        },
        {
          "width": 258.3, "height": 261.5,
          "layer": [
            {"data": {"name": "h"}, "transform": [{"filter": "datum.e == 8 && datum.p == 1 && datum.k == 'mc'"}], "mark": "line",
             "encoding": {
               "x": {"field": "x", "type": "quantitative", "scale": {"domain": [0, 25], "nice": false, "zero": false}, "axis": {"title": null, "labels": false, "gridDash": [0, 247.5, 14, 2000], "gridOpacity": {"condition": {"test": "datum.value == 10 || datum.value == 20", "value": 1}, "value": 0}}},
               "y": {"field": "y", "type": "quantitative", "scale": {"domain": [0, 0.365], "nice": false}, "axis": {"title": null, "labels": false, "gridOpacity": {"condition": {"test": "abs(datum.value - 0.2) < 0.001", "value": 1}, "value": 0}}}}},
            {"data": {"name": "h"}, "transform": [{"filter": "datum.e == 8 && datum.p == 1 && datum.k == 'd'"}], "mark": "errorbar", "encoding": {"x": {"field": "x", "type": "quantitative"}, "y": {"field": "y", "type": "quantitative"}, "yError": {"field": "err"}}},
            {"data": {"name": "h"}, "transform": [{"filter": "datum.e == 8 && datum.p == 1 && datum.k == 'd'"}], "mark": "circle", "encoding": {"x": {"field": "x", "type": "quantitative"}, "y": {"field": "y", "type": "quantitative"}}},
            {"data": {"values": [{"t": "RPC1"}]}, "mark": "text", "encoding": {"x": {"datum": 16.8}, "y": {"datum": 0.29}, "text": {"field": "t"}}}
          ]
        },
        {
          "width": 258.3, "height": 261.5,
          "title": {"text": "Data", "subtitle": "Monte Carlo simulations", "anchor": "start", "frame": "group", "dx": -129, "offset": 31, "fontSize": 37, "subtitleFont": "Liberation Sans", "subtitleFontSize": 37, "subtitleColor": "#ff0000", "subtitlePadding": 6},
          "layer": [
            {"data": {"name": "h"}, "transform": [{"filter": "datum.e == 8 && datum.p == 2 && datum.k == 'mc'"}], "mark": "line",
             "encoding": {
               "x": {"field": "x", "type": "quantitative", "scale": {"domain": [0, 25], "nice": false, "zero": false}, "axis": {"title": null, "labels": false, "gridDash": [0, 247.5, 14, 2000], "gridOpacity": {"condition": {"test": "datum.value == 10 || datum.value == 20", "value": 1}, "value": 0}}},
               "y": {"field": "y", "type": "quantitative", "scale": {"domain": [0, 0.365], "nice": false}, "axis": {"title": null, "labels": false, "gridOpacity": {"condition": {"test": "abs(datum.value - 0.2) < 0.001", "value": 1}, "value": 0}}}}},
            {"data": {"name": "h"}, "transform": [{"filter": "datum.e == 8 && datum.p == 2 && datum.k == 'd'"}], "mark": "errorbar", "encoding": {"x": {"field": "x", "type": "quantitative"}, "y": {"field": "y", "type": "quantitative"}, "yError": {"field": "err"}}},
            {"data": {"name": "h"}, "transform": [{"filter": "datum.e == 8 && datum.p == 2 && datum.k == 'd'"}], "mark": "circle", "encoding": {"x": {"field": "x", "type": "quantitative"}, "y": {"field": "y", "type": "quantitative"}}},
            {"data": {"values": [{"t": "RPC2"}]}, "mark": "text", "encoding": {"x": {"datum": 16.8}, "y": {"datum": 0.29}, "text": {"field": "t"}}}
          ]
        },
        {
          "width": 258.3, "height": 261.5,
          "layer": [
            {"data": {"name": "h"}, "transform": [{"filter": "datum.e == 8 && datum.p == 3 && datum.k == 'mc'"}], "mark": "line",
             "encoding": {
               "x": {"field": "x", "type": "quantitative", "scale": {"domain": [0, 25], "nice": false, "zero": false}, "axis": {"title": null, "labels": true, "gridDash": [0, 247.5, 14, 2000], "gridOpacity": {"condition": {"test": "datum.value == 10 || datum.value == 20", "value": 1}, "value": 0}}},
               "y": {"field": "y", "type": "quantitative", "scale": {"domain": [0, 0.365], "nice": false}, "axis": {"title": null, "labels": true, "gridOpacity": {"condition": {"test": "abs(datum.value - 0.2) < 0.001", "value": 1}, "value": 0}}}}},
            {"data": {"name": "h"}, "transform": [{"filter": "datum.e == 8 && datum.p == 3 && datum.k == 'd'"}], "mark": "errorbar", "encoding": {"x": {"field": "x", "type": "quantitative"}, "y": {"field": "y", "type": "quantitative"}, "yError": {"field": "err"}}},
            {"data": {"name": "h"}, "transform": [{"filter": "datum.e == 8 && datum.p == 3 && datum.k == 'd'"}], "mark": "circle", "encoding": {"x": {"field": "x", "type": "quantitative"}, "y": {"field": "y", "type": "quantitative"}}},
            {"data": {"values": [{"t": "RPC3"}]}, "mark": "text", "encoding": {"x": {"datum": 16.8}, "y": {"datum": 0.29}, "text": {"field": "t"}}}
          ]
        },
        {
          "width": 258.3, "height": 261.5,
          "layer": [
            {"data": {"name": "h"}, "transform": [{"filter": "datum.e == 8 && datum.p == 4 && datum.k == 'mc'"}], "mark": "line",
             "encoding": {
               "x": {"field": "x", "type": "quantitative", "scale": {"domain": [0, 25], "nice": false, "zero": false}, "axis": {"title": null, "labels": true, "gridDash": [0, 247.5, 14, 2000], "gridOpacity": {"condition": {"test": "datum.value == 10 || datum.value == 20", "value": 1}, "value": 0}}},
               "y": {"field": "y", "type": "quantitative", "scale": {"domain": [0, 0.365], "nice": false}, "axis": {"title": null, "labels": false, "gridOpacity": {"condition": {"test": "abs(datum.value - 0.2) < 0.001", "value": 1}, "value": 0}}}}},
            {"data": {"name": "h"}, "transform": [{"filter": "datum.e == 8 && datum.p == 4 && datum.k == 'd'"}], "mark": "errorbar", "encoding": {"x": {"field": "x", "type": "quantitative"}, "y": {"field": "y", "type": "quantitative"}, "yError": {"field": "err"}}},
            {"data": {"name": "h"}, "transform": [{"filter": "datum.e == 8 && datum.p == 4 && datum.k == 'd'"}], "mark": "circle", "encoding": {"x": {"field": "x", "type": "quantitative"}, "y": {"field": "y", "type": "quantitative"}}},
            {"data": {"values": [{"t": "RPC4"}]}, "mark": "text", "encoding": {"x": {"datum": 16.8}, "y": {"datum": 0.29}, "text": {"field": "t"}}}
          ]
        },
        {
          "width": 258.3, "height": 261.5,
          "layer": [
            {"data": {"name": "h"}, "transform": [{"filter": "datum.e == 8 && datum.p == 5 && datum.k == 'mc'"}], "mark": "line",
             "encoding": {
               "x": {"field": "x", "type": "quantitative", "scale": {"domain": [0, 25], "nice": false, "zero": false}, "axis": {"title": "Number of hits", "titleFont": "DejaVu Sans", "titleFontSize": 30.5, "titleFontWeight": "normal", "titleColor": "#555555", "titleAlign": "right", "titleBaseline": "alphabetic", "titleX": 244, "titleY": 74, "labels": true, "gridDash": [0, 247.5, 14, 2000], "gridOpacity": {"condition": {"test": "datum.value == 10 || datum.value == 20", "value": 1}, "value": 0}}},
               "y": {"field": "y", "type": "quantitative", "scale": {"domain": [0, 0.365], "nice": false}, "axis": {"title": null, "labels": false, "gridOpacity": {"condition": {"test": "abs(datum.value - 0.2) < 0.001", "value": 1}, "value": 0}}}}},
            {"data": {"name": "h"}, "transform": [{"filter": "datum.e == 8 && datum.p == 5 && datum.k == 'd'"}], "mark": "errorbar", "encoding": {"x": {"field": "x", "type": "quantitative"}, "y": {"field": "y", "type": "quantitative"}, "yError": {"field": "err"}}},
            {"data": {"name": "h"}, "transform": [{"filter": "datum.e == 8 && datum.p == 5 && datum.k == 'd'"}], "mark": "circle", "encoding": {"x": {"field": "x", "type": "quantitative"}, "y": {"field": "y", "type": "quantitative"}}},
            {"data": {"values": [{"t": "RPC5"}]}, "mark": "text", "encoding": {"x": {"datum": 16.8}, "y": {"datum": 0.29}, "text": {"field": "t"}}}
          ]
        }
      ]
    }
  ]
}
